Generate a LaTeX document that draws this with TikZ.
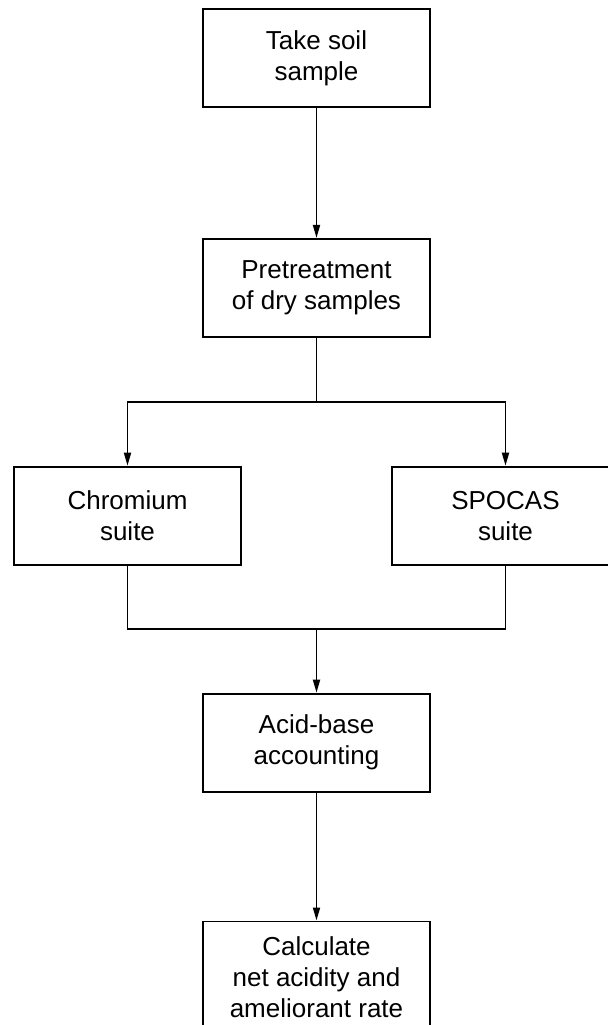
\documentclass[tikz,border=0pt]{standalone}
\usepackage{fontspec}
\setmainfont{Liberation Sans}
\usetikzlibrary{positioning,arrows.meta}
\begin{document}
\begin{tikzpicture}[node distance={64pt}, line width=0.9pt, >={Triangle[length=6.5pt,width=3.5pt]}, box/.style = {draw, minimum width=113.5pt, minimum height=49pt, inner sep=7.5pt, align=center, font=\fontsize{13}{15.5}\selectfont}]
\useasboundingbox (-158.25pt,29pt) rectangle (145.75pt,-483.5pt);

\node[box] (1) at (0,0) {Take soil\\sample};
\node[box] (2) [below=65pt of 1] {Pretreatment\\of dry samples};
\coordinate[below=32pt of 2] (split);

\node[box] (3) [below=32pt of split, xshift=-94.5pt] {Chromium\\suite};
\node[box] (4) [below=32pt of split, xshift=94.5pt] {SPOCAS\\suite};

\node[box] (5) [below=145.5pt of split] {Acid-base\\accounting};
\coordinate[above=32pt of 5] (merge);
\node[box] (6) [below=64pt of 5] {Calculate\\net acidity and\\ameliorant rate};

\draw[->] (1) -- (2);
\draw (2) -- (split);
\draw[->] (split) -| (3);
\draw[->] (split) -| (4);

\draw (3) |- (merge) -| (4);
\draw[->] (merge) -- (5);
\draw[->] (5) -- (6);

\end{tikzpicture}
\end{document}
